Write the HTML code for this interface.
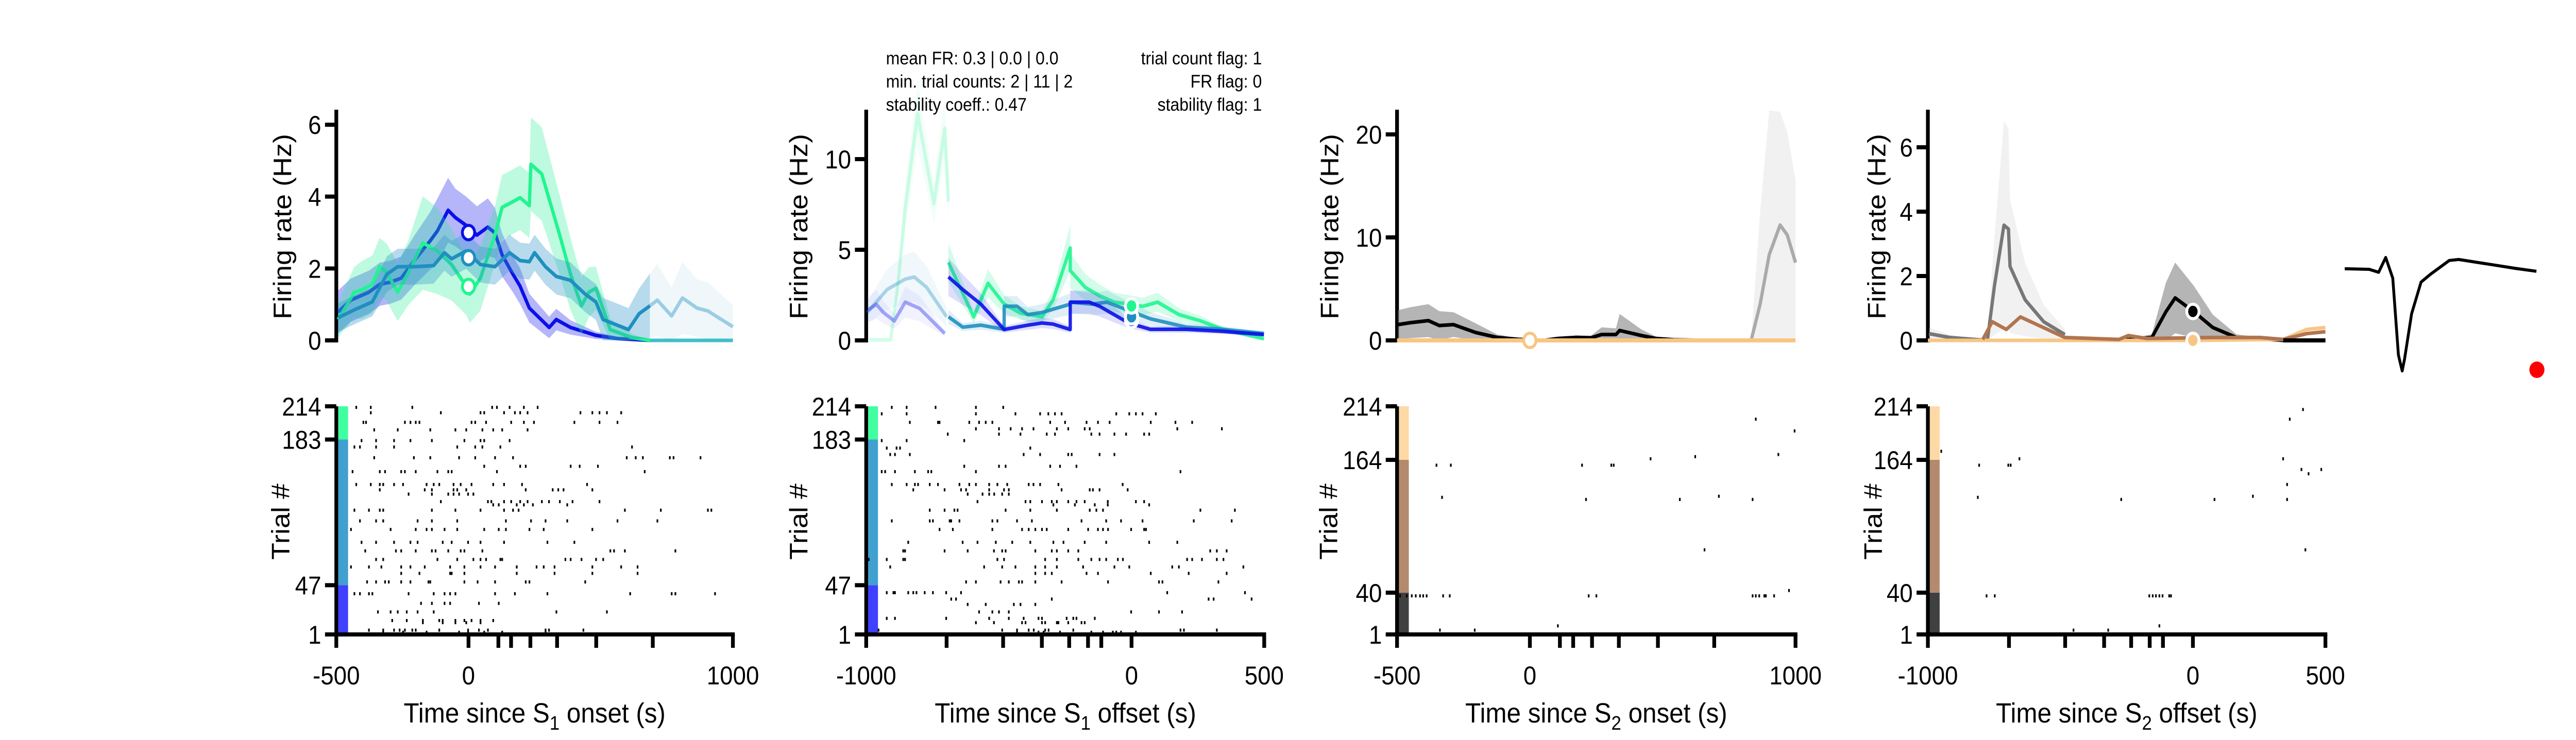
<!DOCTYPE html>
<html><head><meta charset="utf-8"><style>
html,body{margin:0;padding:0;background:#fff;overflow:hidden;width:100%;height:100%;}
svg{display:block;width:100vw;height:100vh;font-family:"Liberation Sans",Arial,sans-serif;}
</style></head><body>
<svg id="fig" viewBox="0 0 5469 1437" preserveAspectRatio="none" xmlns="http://www.w3.org/2000/svg">
<g font-size="35" fill="#000">
<text x="1881" y="125">mean FR: 0.3 | 0.0 | 0.0</text>
<text x="1881" y="170">min. trial counts: 2 | 11 | 2</text>
<text x="1881" y="215">stability coeff.: 0.47</text>
<text x="2679" y="125" text-anchor="end">trial count flag: 1</text>
<text x="2679" y="170" text-anchor="end">FR flag: 0</text>
<text x="2679" y="215" text-anchor="end">stability flag: 1</text>
</g>
</svg>
<script>
// ---------- DATA ----------
// Panel 1 (S1 onset) PSTH
const p1BlueT=[-493,-445,-377,-336,-295,-255,-200,-145,-118,-77,-50,-9,32,73,100,127,168,195,230,305,332,386,482,564,686];
const p1BlueV=[0.79,1.12,1.34,1.56,1.62,1.73,2.27,2.77,3.04,3.62,3.42,3.2,2.93,3.15,2.99,2.38,1.84,1.51,0.9,0.36,0.58,0.36,0.14,0.05,0];
const p1BlueE=[0.6,0.6,0.6,0.6,0.6,0.6,0.7,0.8,0.9,0.9,0.8,0.8,0.8,0.8,0.7,0.6,0.5,0.5,0.4,0.3,0.3,0.2,0.1,0.05,0];
const p1TealT=[-493,-432,-364,-309,-268,-200,-132,-91,-64,-9,45,100,155,195,230,250,291,332,386,441,482,509,605,645,686];
const p1TealV=[0.63,0.85,1.07,1.84,2.05,2.05,2.08,2.44,2.27,2.49,2.11,2.05,2.44,2.22,2.19,2.44,2.05,1.78,1.67,1.29,1.07,0.58,0.3,0.74,0.96];
const p1TealE=[0.4,0.4,0.4,0.5,0.5,0.5,0.5,0.5,0.5,0.5,0.5,0.5,0.5,0.5,0.5,0.5,0.5,0.5,0.5,0.5,0.5,0.6,0.6,0.7,0.9];
const p1TealLateT=[686,714,768,809,864,905,1000];
const p1TealLateV=[0.96,1.12,0.68,1.18,0.9,0.82,0.38];
const p1TealLateE=[0.9,1.0,0.8,1.0,0.8,0.8,0.6];
const p1GreenT=[-493,-432,-405,-364,-336,-309,-268,-227,-173,-118,-64,-9,5,45,100,127,155,195,230,236,277,345,386,427,455,482,536,618,686];
const p1GreenV=[0.58,1.34,1.4,1.56,2.05,1.89,1.34,1.89,2.71,2.49,2.11,1.51,1.29,1.73,2.93,3.7,3.81,3.97,3.75,4.9,4.63,2.93,1.84,0.96,1.34,1.45,0.3,0.08,0];
const p1GreenE=[0.5,0.7,0.8,0.8,0.8,0.8,0.8,0.9,1.3,1.2,1.0,0.8,0.8,0.9,0.8,0.9,0.9,0.9,0.9,1.3,1.3,1.1,1.0,0.8,0.7,0.6,0.3,0.1,0];
const p1MarkV=[3.0,2.3,1.5];
// Panel 2 (S1 offset) PSTH
const p2BlueEarlyT=[-996,-962,-935,-894,-853,-799,-704];
const p2BlueEarlyV=[1.65,1.99,1.54,1.07,2.11,1.77,0.38];
const p2BlueT=[-690,-636,-568,-480,-432,-391,-337,-296,-231,-231,-160,-120,-11,71,207,343,499];
const p2BlueV=[3.5,2.8,2.0,0.6,0.73,0.84,0.96,0.9,0.6,2.11,2.11,1.88,0.96,0.61,0.61,0.5,0.32];
const p2TealEarlyT=[-996,-921,-853,-819,-772,-697];
const p2TealEarlyV=[1.54,2.81,3.38,3.5,2.92,1.3];
const p2TealT=[-690,-636,-568,-480,-480,-432,-391,-337,-231,-231,-147,-93,-11,71,207,343,499];
const p2TealV=[1.3,0.73,0.84,0.61,1.88,1.88,1.42,1.54,2.0,2.11,2.0,2.11,1.65,1.19,0.73,0.61,0.38];
const p2GreenEarlyT=[-989,-908,-880,-853,-806,-745,-704,-690];
const p2GreenEarlyV=[0.03,0.03,3.15,7.3,12.5,7.54,11.7,7.66];
const p2GreenT=[-690,-595,-541,-480,-418,-337,-296,-231,-231,-174,-120,-65,-11,43,98,179,261,343,499];
const p2GreenV=[4.3,1.3,3.15,2.0,1.5,1.3,2.23,5.1,3.85,2.92,2.46,2.11,2.0,1.88,2.11,1.42,1.07,0.61,0.09];
const p2MarkV=[1.1,1.3,1.9];
// Panel 3 (S2 onset) PSTH
const p3BlackT=[-497,-450,-382,-341,-287,-205,-124,-43,52,107,175,230,270,324,338,419,473,541,677,840];
const p3BlackV=[1.53,1.72,1.92,1.44,1.53,0.77,0.29,0.1,0,0.19,0.29,0.25,0.57,0.57,0.96,0.48,0.19,0.06,0,0];
const p3BlackE=[1.4,1.5,1.6,1.4,1.2,0.9,0.3,0.1,0,0.1,0.2,0.2,0.7,0.6,1.6,0.6,0.2,0.05,0,0];
const p3GrayT=[833,867,901,942,969,1000];
const p3GrayV=[0,3.54,8.33,11.2,10.23,7.55];
const p3GrayE=[0,9,14,11,10,8];
const p3MarkV=[0];
// Panel 4 (S2 offset) PSTH
const p4GrayT=[-996,-917,-793,-775,-749,-713,-696,-690,-633,-563,-483];
const p4GrayV=[0.21,0.09,0.01,0.03,1.68,3.58,3.46,2.3,1.26,0.58,0.18];
const p4BlackT=[-483,-279,-155,-102,-67,4,75,164,341,500];
const p4BlackV=[0.06,0,0.09,0.89,1.32,0.89,0.4,0.09,0,0];
const p4BlackE=[0,0,0.1,0.9,1.1,0.8,0.4,0.1,0,0];
const p4BrownT=[-793,-757,-704,-651,-580,-483,-279,-244,-173,75,252,341,429,500];
const p4BrownV=[0.03,0.58,0.34,0.73,0.46,0.09,0.03,0.15,0.06,0.09,0.09,0.03,0.21,0.27];
const p4OrangeT=[-1000,-500,0,341,429,500];
const p4OrangeV=[0,0,0,0.03,0.34,0.4];
const p4MarkV=[0.9,0];
// Raster spikes: trial numbers and times
const r1Trials=[213,213,213,213,213,213,213,213,208,208,208,208,208,208,208,208,208,208,208,208,208,199,199,199,199,199,199,199,199,199,199,199,199,199,199,199,192,192,192,192,192,192,192,192,192,182,182,182,182,182,182,182,182,182,176,176,176,176,176,176,176,176,176,166,166,166,166,166,166,166,166,166,166,166,166,166,158,158,158,158,158,158,153,153,153,153,153,153,153,153,153,153,153,141,141,141,141,141,141,141,141,141,141,141,141,141,141,141,141,136,136,136,136,136,136,136,136,136,136,136,132,132,132,132,132,132,132,125,125,125,125,125,125,125,125,125,125,125,125,122,122,122,122,122,122,117,117,117,117,117,117,117,117,117,117,117,117,117,117,107,107,107,107,107,107,107,107,107,107,107,107,99,99,99,99,99,99,99,99,99,99,99,99,99,87,87,87,87,87,87,87,87,87,87,87,87,79,79,79,79,79,79,79,79,79,79,79,79,79,79,71,71,71,71,71,71,71,71,71,71,71,71,71,71,64,64,64,64,64,64,64,64,64,64,64,64,64,64,64,64,64,58,58,58,58,58,58,58,58,58,50,50,50,50,50,50,50,50,50,50,50,50,50,50,39,39,39,39,39,39,39,39,39,39,39,39,39,39,39,39,30,30,30,30,30,30,22,22,22,22,22,22,22,22,14,14,14,14,14,14,14,14,14,14,12,12,12,12,12,5,5,5,5,5,5,5,5,5,5,5,5,5,5,3,3,3,3,3,3,3,3];
const r1Times=[-425,-370,-213,89,107,155,209,261,-370,-105,45,59,134,175,195,223,423,468,495,523,577,-398,-388,-241,-220,-200,-186,11,25,66,161,209,247,400,495,563,-357,-268,-145,-50,-9,52,93,127,223,-405,-350,-282,-220,-139,-16,45,59,155,-432,-411,-350,-282,-43,25,52,120,618,-357,-207,-145,-36,25,100,168,598,632,659,761,775,877,59,195,216,386,420,489,-439,-336,-316,-255,-241,-200,-118,-77,-64,107,666,-425,-370,-336,-323,-282,-248,-159,-132,-111,-57,-30,11,93,134,202,448,-336,-166,-139,-57,-43,-9,216,318,339,359,468,-227,-139,-77,-57,-36,-2,18,-105,73,86,134,161,195,223,277,304,345,393,495,93,114,182,209,243,373,-432,-377,-336,-323,-139,-50,45,134,168,189,591,727,905,918,-411,-350,-323,-193,-139,-43,141,236,291,373,563,714,-445,-295,-200,-159,-139,-91,-43,59,114,141,230,284,468,-405,-350,-282,-220,-193,-98,-64,-2,45,134,298,400,-391,-275,-255,-200,-139,-125,-77,-30,-16,52,536,550,591,782,-350,-323,-118,-43,18,45,66,120,127,366,386,427,482,509,-445,-377,-330,-255,-220,-166,-70,-16,45,100,182,257,284,325,468,577,639,-255,-186,-70,-64,-16,182,325,468,639,-384,-350,-316,-302,-255,-220,-152,-145,-16,34,100,216,230,441,-432,-411,-377,-364,-227,-132,-91,-70,-50,100,175,298,611,768,782,932,-180,-139,-91,-70,39,114,-343,-295,-268,-234,-193,-132,332,523,-289,-234,-173,-111,-98,-50,-16,11,45,93,-173,-98,-50,-9,45,-377,-323,-282,-261,-241,-213,-200,-111,-2,39,73,291,304,434,-323,-248,-159,-36,-2,59,127,291];
const r2Trials=[213,213,213,213,213,207,207,207,207,207,207,207,207,207,207,207,207,207,199,199,199,199,199,199,199,199,199,199,199,199,199,199,199,193,193,193,193,193,193,193,193,193,193,193,188,188,188,188,188,188,188,188,188,188,188,182,182,182,175,175,175,175,169,169,169,169,169,169,169,169,169,158,158,158,158,158,158,153,153,153,153,153,153,153,153,141,141,141,141,141,141,141,141,141,141,141,141,141,141,141,141,141,136,136,136,136,136,136,136,136,136,136,136,136,132,132,132,132,132,132,125,125,125,125,125,125,125,125,125,125,125,125,122,122,122,122,122,117,117,117,117,117,117,117,117,117,117,117,117,107,107,107,107,107,107,107,107,107,107,107,107,107,107,107,107,99,99,99,99,99,99,99,99,99,99,99,99,99,99,99,99,87,87,87,87,87,87,87,87,87,87,87,87,79,79,79,79,79,79,79,79,79,79,79,79,79,79,79,71,71,71,71,71,71,71,71,71,71,71,71,71,71,71,71,71,71,71,64,64,64,64,64,64,64,64,64,64,64,64,64,58,58,58,58,58,58,58,58,50,50,50,50,50,50,50,50,50,50,50,50,40,40,40,40,40,40,40,40,40,40,40,40,34,34,34,34,34,34,29,29,29,29,29,22,22,22,22,22,22,22,16,16,16,16,16,16,16,16,16,16,16,16,12,12,12,12,12,12,12,12,12,12,12,5,5,5,5,5,5,5,5,5,5,5,3,3,3,3,3,3,3,3,3,3];
const r2Times=[-904,-848,-739,-587,-484,-942,-848,-587,-438,-345,-314,-289,-264,-58,-9,16,41,91,-836,-730,-724,-612,-575,-550,-525,-307,-251,-170,-127,-83,72,165,228,-587,-500,-456,-413,-370,-282,-239,-177,-158,172,340,-693,-500,-419,-320,-289,-152,-121,-65,-21,47,66,-942,-848,-631,-923,-886,-873,-382,-910,-892,-836,-407,-345,-239,-226,-121,-65,-631,-500,-475,-307,-270,-208,-942,-929,-892,-817,-767,-755,-587,184,-904,-848,-817,-805,-761,-730,-649,-612,-587,-537,-506,-469,-388,-370,-345,-276,-34,-823,-705,-643,-624,-537,-481,-463,-264,-158,-146,-121,-15,-618,-562,-537,-518,-488,-463,-581,-400,-382,-338,-301,-282,-239,-208,-177,-90,16,47,-295,-214,-139,-90,66,-761,-705,-668,-656,-475,-382,-282,-158,-133,-108,259,389,-904,-761,-749,-686,-680,-649,-525,-506,-432,-376,-189,-96,-40,41,234,377,-724,-674,-525,-413,-388,-363,-338,-320,-239,-164,-127,-108,-89,-2,47,54,-842,-637,-581,-512,-450,-382,-295,-257,-177,-96,66,172,-861,-854,-705,-618,-519,-488,-475,-363,-301,-282,-239,-201,296,321,358,-991,-923,-861,-854,-506,-481,-326,-282,-201,-152,-121,-96,-52,-33,209,228,265,321,346,-910,-556,-488,-438,-363,-326,-282,-183,-65,-9,153,178,421,-363,-326,-301,-170,-127,72,215,358,-624,-587,-494,-463,-425,-413,-363,-264,-89,103,116,327,-923,-898,-892,-842,-823,-811,-780,-749,-699,-643,134,427,-680,-662,-301,290,309,452,-618,-550,-444,-419,-363,-575,-525,-500,-463,-2,103,190,-923,-892,-699,-537,-463,-407,-351,-338,-245,-220,-208,-139,-587,-519,-413,-400,-338,-326,-282,-276,-239,-189,-177,-954,-488,-432,-388,-369,-326,-313,-220,184,197,321,-432,-351,-332,-270,-152,-108,-71,-58,-40,16];
const r3Trials=[202,191,169,167,165,159,159,159,159,159,129,127,127,127,130,80,42,37,37,37,37,37,37,37,37,37,37,37,37,37,37,37,37,37,9,5,5];
const r3Times=[850,996,935,622,454,-352,-298,196,306,315,-331,211,564,838,711,657,975,-489,-464,-445,-430,-414,-402,-389,-327,-302,221,250,838,850,863,882,888,919,105,-339,-208];
const r4Trials=[172,165,165,159,159,159,155,155,151,141,130,129,127,127,127,211,202,80,37,37,37,37,37,37,37,37,37,9,5,5];
const r4Times=[-950,-655,340,-807,-697,-688,409,484,436,355,226,-812,-271,81,355,415,365,424,-779,-748,-165,-152,-140,-127,-115,-90,-83,-127,-451,-320];
// trial-group boundaries
const groups12=[1,47,183,214];
const groups34=[1,40,164,214];
// event ticks on raster x-axis (s)
const ev1=[113,161,234,335,483,697];
const ev2=[-697,-484,-338,-235,-164,-114];
const ev3=[113,163,234,335,482,694];
const ev4=[-694,-482,-335,-233,-163,-113];
// waveform samples
const wfS=[0,52,72,87,102,114,122,127,142,162,182,222,242,282,322,362,407];
const wfA=[0.03,0,-0.15,0.6,-0.45,-4.35,-5.15,-4.55,-2.25,-0.65,-0.25,0.45,0.5,0.35,0.2,0.05,-0.1];

// ---------- DRAWING ----------
const NS='http://www.w3.org/2000/svg';
const svg=document.getElementById('fig');
function el(tag,attrs,parent){const e=document.createElementNS(NS,tag);for(const k in attrs)e.setAttribute(k,attrs[k]);(parent||svg).appendChild(e);return e;}
function xScale(ax,xe,t0,t1){return t=>ax+(t-t0)/(t1-t0)*(xe-ax);}
function yScale(y0,ppu){return v=>y0-v*ppu;}
function pathD(T,V,sx,sy){return T.map((t,i)=>(i?'L':'M')+sx(t).toFixed(1)+','+sy(V[i]).toFixed(1)).join(' ');}
function bandD(T,V,E,sx,sy){let up=T.map((t,i)=>(i?'L':'M')+sx(t).toFixed(1)+','+sy(V[i]+E[i]).toFixed(1)).join(' ');let dn='';for(let i=T.length-1;i>=0;i--)dn+='L'+sx(T[i]).toFixed(1)+','+sy(Math.max(0,V[i]-E[i])).toFixed(1);return up+dn+'Z';}

const panels=[
 {ax:714,xe:1556,t0:-500,t1:1000,ppu:69.8,yt:[0,2,4,6],lab:'onset',s:'1',ttl:1135,groups:groups12,gcol:['#4040ff','#40a0d0','#40ffa0'],tr:r1Trials,tm:r1Times,ev:ev1,ylx:600,tlx:596},
 {ax:1839,xe:2684,t0:-1000,t1:500,ppu:35.2,yt:[0,5,10],lab:'offset',s:'1',ttl:2262,groups:groups12,gcol:['#4040ff','#40a0d0','#40ffa0'],tr:r2Trials,tm:r2Times,ev:ev2,ylx:1696,tlx:1696},
 {ax:2966,xe:3812,t0:-500,t1:1000,ppu:20.0,yt:[0,10,20],lab:'onset',s:'2',ttl:3389,groups:groups34,gcol:['#404040','#b48a6e','#fdd9a5'],tr:r3Trials,tm:r3Times,ev:ev3,ylx:2823,tlx:2821},
 {ax:4093,xe:4937,t0:-1000,t1:500,ppu:62.5,yt:[0,2,4,6],lab:'offset',s:'2',ttl:4515,groups:groups34,gcol:['#404040','#b48a6e','#fdd9a5'],tr:r4Trials,tm:r4Times,ev:ev4,ylx:3985,tlx:3977}
];
const Y0=661, YTOP=213, RT=789, RB=1232;

panels.forEach((p,pi)=>{
 const sx=xScale(p.ax,p.xe,p.t0,p.t1), sy=yScale(Y0,p.ppu);
 const g=el('g',{});
 
 
 p.sx=sx;p.sy=sy;p.g=g;
 const ya=el('line',{x1:p.ax,y1:YTOP,x2:p.ax,y2:Y0+4,stroke:'#000','stroke-width':8},g);
 
 
 p.yt.forEach(v=>{
  el('line',{x1:p.ax-24,y1:sy(v),x2:p.ax,y2:sy(v),stroke:'#000','stroke-width':8},g);
  const t=el('text',{x:p.ax-32,y:sy(v)+18,'font-size':50,'text-anchor':'end'},g);t.textContent=v;
  
  
 });
 const yl=el('text',{transform:`translate(${p.ylx+18},440) rotate(-90)`,'font-size':54,'text-anchor':'middle'},g);
 yl.textContent='Firing rate (Hz)';
 
 

 const rg=el('g',{});
 
 
 const rx=sx, ry=tr=>RB-(tr-1)*(RB-RT)/213;
 for(let k=0;k<3;k++){
  const r=el('rect',{x:p.ax,y:ry(p.groups[k+1]),width:25,height:ry(p.groups[k])-ry(p.groups[k+1]),fill:p.gcol[k]},rg);
  
  
 }
 p.tr.forEach((tr,i)=>{
  const d=el('rect',{x:rx(p.tm[i])-1.5,y:ry(tr)-3,width:3.5,height:6,fill:'#000'},rg);
  
  
 });
 el('line',{x1:p.ax,y1:RT,x2:p.ax,y2:RB,stroke:'#000','stroke-width':8},rg);
 el('line',{x1:p.ax-4,y1:RB,x2:p.xe+4,y2:RB,stroke:'#000','stroke-width':8},rg);
 p.groups.forEach(v=>{
  el('line',{x1:p.ax-24,y1:ry(v),x2:p.ax,y2:ry(v),stroke:'#000','stroke-width':8},rg);
  const t=el('text',{x:p.ax-32,y:ry(v)+18,'font-size':50,'text-anchor':'end'},rg);t.textContent=v;
  
  
 });
 const xt=[p.t0,0,p.t1];
 xt.concat(p.ev).forEach(v=>{el('line',{x1:rx(v),y1:RB,x2:rx(v),y2:RB+26,stroke:'#000','stroke-width':8},rg);});
 xt.forEach(v=>{const t=el('text',{x:rx(v),y:1329,'font-size':50,'text-anchor':'middle'},rg);t.textContent=v;
  
  });
 const tl=el('text',{transform:`translate(${p.tlx+18},1013) rotate(-90)`,'font-size':54,'text-anchor':'middle'},rg);
 tl.textContent='Trial #';
 
 
 const xl=el('text',{x:p.ttl,y:1403,'font-size':54,'text-anchor':'middle'},rg);
 xl.innerHTML=`Time since S<tspan font-size="38" dy="14">${p.s}</tspan><tspan dy="-14"> ${p.lab} (s)</tspan>`;
 
 
});

function series(p,T,V,E,col,bandCol,op,name){
 if(E){const b=el('path',{d:bandD(T,V,E,p.sx,p.sy),fill:bandCol},p.g);
  
  }
 const l=el('path',{d:pathD(T,V,p.sx,p.sy),fill:'none',stroke:col,'stroke-width':7,'stroke-linejoin':'round',opacity:op},p.g);
 
 
}
function marker(p,v,stroke,fill,name){
 const c=el('ellipse',{cx:p.sx(0),cy:p.sy(v),rx:13,ry:14,fill:fill,stroke:stroke,'stroke-width':6},p.g);
 
 
}
const [P1,P2,P3,P4]=panels;
// Panel 1
series(P1,p1BlueT,p1BlueV,p1BlueE,'#0a10e8','rgba(70,70,240,0.4)',1,'p1-blue');
series(P1,p1GreenT,p1GreenV,p1GreenE,'#20f590','rgba(40,240,150,0.3)',1,'p1-green');
series(P1,p1TealT,p1TealV,p1TealE,'#1f8fc0','rgba(50,150,200,0.35)',1,'p1-teal');
series(P1,p1TealLateT,p1TealLateV,p1TealLateE,'#1f8fc0','rgba(50,150,200,0.08)',0.4,'p1-teal-late');
el('line',{x1:P1.sx(686),y1:Y0,x2:P1.sx(1000),y2:Y0,stroke:'#40c0c8','stroke-width':7},P1.g);
marker(P1,p1MarkV[0],'#0a10e8','#fff','p1-blue-marker');
marker(P1,p1MarkV[1],'#1f8fc0','#fff','p1-teal-marker');
marker(P1,p1MarkV[2],'#20f590','#fff','p1-green-marker');
// Panel 2
series(P2,p2GreenEarlyT,p2GreenEarlyV,p2GreenEarlyV.map(v=>v*0.15),'#20f590','rgba(40,240,150,0.06)',0.2,'p2-green-early');
series(P2,p2TealEarlyT,p2TealEarlyV,p2TealEarlyV.map(v=>v*0.4),'#1f8fc0','rgba(50,150,200,0.07)',0.35,'p2-teal-early');
series(P2,p2BlueEarlyT,p2BlueEarlyV,p2BlueEarlyV.map(v=>v*0.4),'#0a10e8','rgba(70,70,240,0.07)',0.35,'p2-blue-early');
series(P2,p2GreenT,p2GreenV,p2GreenV.map(v=>v*0.25),'#20f590','rgba(40,240,150,0.2)',0.9,'p2-green');
series(P2,p2TealT,p2TealV,p2TealV.map(v=>v*0.3),'#1f8fc0','rgba(50,150,200,0.15)',0.9,'p2-teal');
series(P2,p2BlueT,p2BlueV,p2BlueV.map(v=>v*0.3),'#0a10e8','rgba(70,70,240,0.18)',0.9,'p2-blue');
marker(P2,p2MarkV[0],'#fff','#0a10e8','p2-blue-marker');
marker(P2,p2MarkV[1],'#fff','#1f8fc0','p2-teal-marker');
marker(P2,p2MarkV[2],'#fff','#20f590','p2-green-marker');
// Panel 3
series(P3,p3GrayT,p3GrayV,p3GrayE,'#aaaaaa','rgba(200,200,200,0.25)',1,'p3-gray');
series(P3,p3BlackT,p3BlackV,p3BlackE,'#000','rgba(120,120,120,0.55)',1,'p3-black');
el('line',{x1:P3.sx(-500),y1:Y0,x2:P3.sx(1000),y2:Y0,stroke:'#f8c684','stroke-width':8},P3.g);
marker(P3,p3MarkV[0],'#f8c684','#fff','p3-orange-marker');
// Panel 4
series(P4,p4GrayT,p4GrayV,p4GrayV.map(v=>v*0.9),'#777','rgba(200,200,200,0.25)',1,'p4-gray');
series(P4,p4BlackT,p4BlackV,p4BlackE,'#000','rgba(120,120,120,0.55)',1,'p4-black');
series(P4,p4OrangeT,p4OrangeV,null,'#f8c684',null,1,'p4-orange');
series(P4,p4BrownT,p4BrownV,null,'#b07550',null,1,'p4-brown');
el('line',{x1:P4.sx(341),y1:Y0,x2:P4.sx(500),y2:Y0,stroke:'#000','stroke-width':8},P4.g);
marker(P4,p4MarkV[0],'#fff','#000','p4-black-marker');
marker(P4,p4MarkV[1],'#fff','#f8c684','p4-orange-marker');
// Waveform
const wf=el('path',{d:wfS.map((s,i)=>(i?'L':'M')+(4978+s)+','+(523-wfA[i]*38.3).toFixed(1)).join(' '),fill:'none',stroke:'#000','stroke-width':6,'stroke-linejoin':'round'});


const rd=el('circle',{cx:5386,cy:718,r:16,fill:'#ff0000'});


</script>
</body></html>
